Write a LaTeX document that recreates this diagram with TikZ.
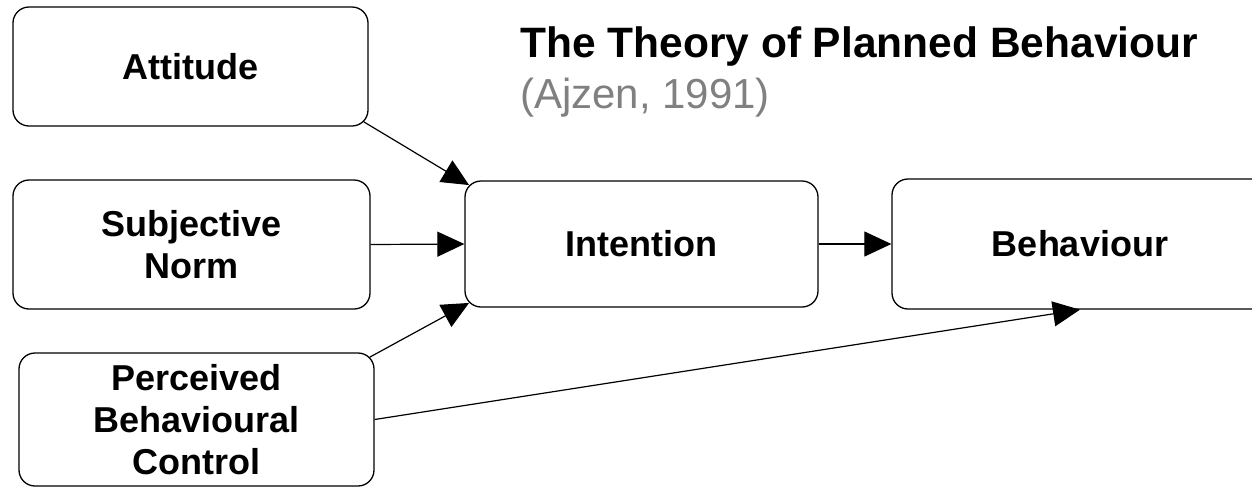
\documentclass[tikz,border=0pt]{standalone}
\usepackage{fontspec}
\setmainfont{Liberation Sans}
\usetikzlibrary{arrows.meta, positioning}
\definecolor{CiteGray}{HTML}{808080}

\begin{document}
\begin{tikzpicture}[x=1pt, y=-1pt, box/.style={rectangle, rounded corners=16pt, draw, line width=1.3pt, align=center, inner sep=0pt, font=\fontsize{36}{42}\selectfont\bfseries}]

        \useasboundingbox (0,0) rectangle (1252,488);
        \clip (0,0) rectangle (1252,488);

        \node[box, minimum width=355pt, minimum height=119pt] (att) at (190.5,66.5) {Attitude};

        \node[box, minimum width=357pt, minimum height=129pt] (norm) at (191.5,244.5) {Subjective\\Norm};

        \node[box, minimum width=355pt, minimum height=133pt] (pbc) at (196.5,419.5) {Perceived\\Behavioural\\Control};

        \node[box, minimum width=353pt, minimum height=126pt] (int) at (641.5,244) {Intention};

        \node[box, minimum width=376pt, minimum height=130pt] (beh) at (1080,244) {Behaviour};

        \node[anchor=base west, inner sep=0pt, font=\fontsize{42.5}{48}\selectfont\bfseries] (title) at (520,57) {The Theory of Planned Behaviour};
        \node[anchor=base west, inner sep=0pt, text=CiteGray, font=\fontsize{42}{48}\selectfont] (cite) at (520,108) {(Ajzen, 1991)};

        \path[-{Triangle[length=27pt, width=25pt]}, line width=1.2pt]
        ([xshift=-4.7pt, yshift=4.7pt]att.south east) edge[] ([xshift=4.7pt, yshift=-4.7pt]int.north west)
        (norm.east) edge[] (int.west)
        ([xshift=-4.7pt, yshift=-4.7pt]pbc.north east) edge[] ([xshift=4.7pt, yshift=4.7pt]int.south west)
        (pbc.east) edge[] (beh.south)
        (int.east) edge[] (beh.west);

    \end{tikzpicture}
\end{document}
